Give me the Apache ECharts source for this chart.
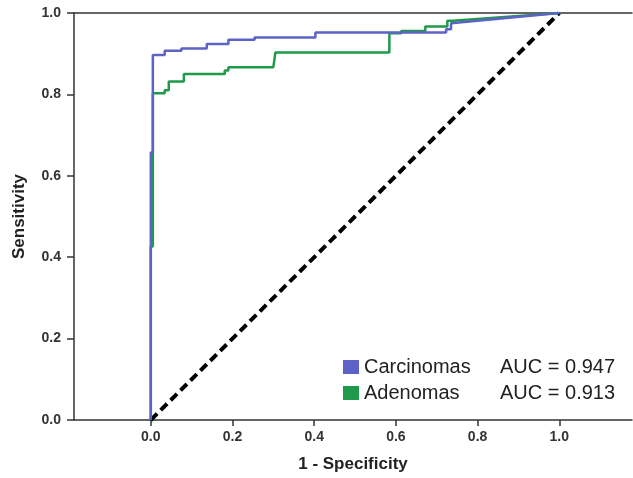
<!DOCTYPE html>
<html>
<head>
<meta charset="utf-8">
<script src="https://cdn.jsdelivr.net/npm/echarts@6/dist/echarts.min.js"></script>
<style>
  html, body { margin: 0; padding: 0; background: #fff; }
  #chart { width: 633px; height: 478px; }
</style>
</head>
<body>
<div id="chart"></div>
<script>
// ROC curve points [1 - specificity, sensitivity]
var carcinomas = [
  [0, 0], [0, 0.657], [0.005, 0.657], [0.005, 0.897], [0.034, 0.897], [0.034, 0.907],
  [0.075, 0.907], [0.075, 0.913], [0.137, 0.913], [0.137, 0.924], [0.19, 0.924],
  [0.19, 0.934], [0.254, 0.934], [0.254, 0.94], [0.403, 0.94], [0.403, 0.952],
  [0.723, 0.952], [0.723, 0.96], [0.735, 0.96], [0.735, 0.975], [1, 1]
];
var adenomas = [
  [0, 0], [0, 0.426], [0.005, 0.426], [0.005, 0.803], [0.034, 0.803], [0.034, 0.81],
  [0.044, 0.81], [0.044, 0.832], [0.081, 0.832], [0.081, 0.85], [0.181, 0.85],
  [0.181, 0.859], [0.19, 0.859], [0.19, 0.867], [0.30, 0.867], [0.305, 0.903],
  [0.584, 0.903], [0.584, 0.95], [0.613, 0.95], [0.613, 0.956], [0.672, 0.956],
  [0.672, 0.967], [0.726, 0.967], [0.726, 0.981], [0.74, 0.981], [1, 1]
];
var reference = [[0, 0], [1, 1]];
var auc = { Carcinomas: "0.947", Adenomas: "0.913" };
var xTicks = [0, 0.2, 0.4, 0.6, 0.8, 1.0];

var chart = echarts.init(document.getElementById("chart"));

var font = "Liberation Sans, Arial, sans-serif";
var axisColor = "#333";

chart.setOption({
  animation: false,
  grid: { left: 74, right: 1, top: 13, bottom: 57 },
  legend: {
    orient: "vertical",
    left: 338,
    top: 352,
    itemWidth: 16,
    itemHeight: 14,
    itemGap: 6,
    icon: "rect",
    data: ["Carcinomas", "Adenomas"],
    formatter: function (name) {
      return "{n|" + name + "}{a|AUC = " + auc[name] + "}";
    },
    textStyle: {
      fontFamily: font,
      fontSize: 20,
      color: "#222",
      rich: {
        n: { width: 136, fontSize: 20, fontFamily: font, color: "#222", lineHeight: 21 },
        a: { fontSize: 20, fontFamily: font, color: "#222", lineHeight: 21 }
      }
    }
  },
  xAxis: [
    {
      type: "value",
      min: -0.188,
      max: 1.178,
      name: "1 - Specificity",
      nameLocation: "middle",
      nameGap: 36,
      nameTextStyle: { fontFamily: font, fontSize: 17, fontWeight: "bold", color: "#222" },
      axisLine: { show: true, onZero: false, lineStyle: { color: axisColor, width: 1.5 } },
      axisTick: { show: true, length: 6, customValues: xTicks, lineStyle: { color: axisColor, width: 1.5 } },
      axisLabel: {
        customValues: xTicks,
        margin: 10,
        fontFamily: font,
        fontSize: 14,
        fontWeight: "bold",
        color: "#333",
        formatter: function (v) { return v.toFixed(1); }
      },
      splitLine: { show: false }
    },
    {
      type: "value",
      position: "top",
      min: -0.188,
      max: 1.178,
      axisLine: { show: true, onZero: false, lineStyle: { color: axisColor, width: 1.5 } },
      axisTick: { show: false },
      axisLabel: { show: false },
      splitLine: { show: false }
    }
  ],
  yAxis: {
    type: "value",
    min: 0,
    max: 1,
    interval: 0.2,
    name: "Sensitivity",
    nameLocation: "middle",
    nameGap: 46,
    nameTextStyle: { fontFamily: font, fontSize: 17, fontWeight: "bold", color: "#222" },
    axisLine: { show: true, onZero: false, lineStyle: { color: axisColor, width: 1.5 } },
    axisTick: { show: true, length: 7, lineStyle: { color: axisColor, width: 1.5 } },
    axisLabel: {
      margin: 13,
      fontFamily: font,
      fontSize: 14,
      fontWeight: "bold",
      color: "#333",
      formatter: function (v) { return v.toFixed(1); }
    },
    splitLine: { show: false }
  },
  series: [
    {
      name: "Reference",
      type: "line",
      data: reference,
      showSymbol: false,
      lineStyle: { color: "#000", width: 4, type: [9, 5] },
      z: 1
    },
    {
      name: "Adenomas",
      type: "line",
      data: adenomas,
      showSymbol: false,
      color: "#1f9a4b",
      lineStyle: { color: "#1f9a4b", width: 2.5 },
      z: 2
    },
    {
      name: "Carcinomas",
      type: "line",
      data: carcinomas,
      showSymbol: false,
      color: "#5c62c6",
      lineStyle: { color: "#5c62c6", width: 2.5 },
      z: 3
    }
  ]
});
</script>
</body>
</html>
